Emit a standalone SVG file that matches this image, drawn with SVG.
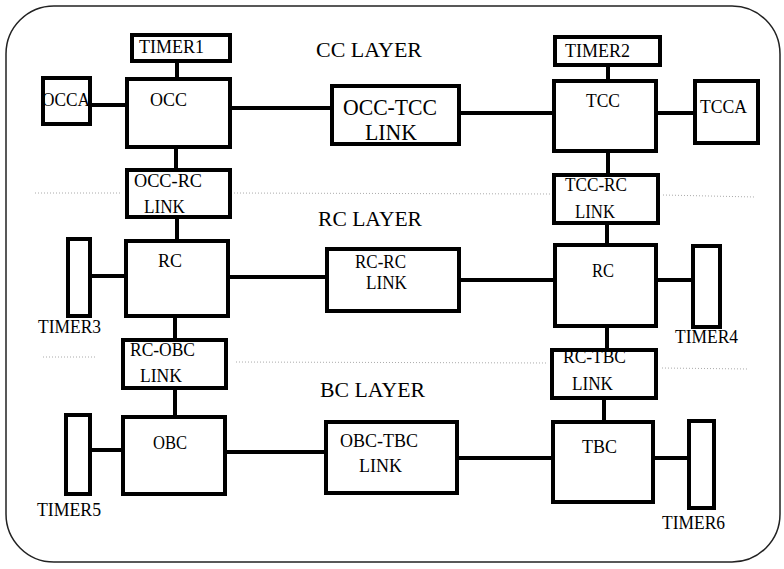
<svg xmlns="http://www.w3.org/2000/svg" width="784" height="569" viewBox="0 0 784 569">
<style>
.n{fill:#fff;stroke:#000;stroke-width:4}
.c{stroke:#000;stroke-width:4;fill:none}
.d{stroke:#aaa;stroke-width:1;stroke-dasharray:1 2;fill:none}
text{font-family:'Liberation Serif','DejaVu Serif',serif;font-size:19.5px;fill:#000}
.big{font-size:23px}
.lay{font-size:22px}
</style>
<rect x="6" y="6" width="774" height="556" rx="48" ry="48" fill="#fff" stroke="#222" stroke-width="1.5"/>
<g id="dotted">
<path class="d" d="M35 193H122M234 193L550 194M663 195L755 197"/>
<path class="d" d="M43 357H95M236 362L548 363M662 368L748 369"/>
</g>
<g id="connectors">
<path class="c" d="M177 63V79M92 105H127M232 108H332M459 113H554M608 67V81M656 113H695"/>
<path class="c" d="M176 149V170M608 151V175M177 219V241M607 223V245"/>
<path class="c" d="M92 276H126M228 277H327M459 280H555M656 280H693"/>
<path class="c" d="M175 318V340M607 326V350M175 390V417M604 400V422"/>
<path class="c" d="M90 450H123M225 452H326M457 458H553M653 458H689"/>
</g>
<g id="labels">
<text class="lay" x="316" y="57" textLength="106" lengthAdjust="spacingAndGlyphs">CC LAYER</text>
<text class="lay" x="318" y="226" textLength="104" lengthAdjust="spacingAndGlyphs">RC LAYER</text>
<text class="lay" x="320" y="397" textLength="105" lengthAdjust="spacingAndGlyphs">BC LAYER</text>
</g>
<g id="timer1"><rect class="n" x="132" y="35" width="98" height="26"/><text x="139" y="53" textLength="65" lengthAdjust="spacingAndGlyphs">TIMER1</text></g>
<g id="occ"><rect class="n" x="127" y="79" width="103" height="68"/><text x="150" y="106" textLength="37" lengthAdjust="spacingAndGlyphs">OCC</text></g>
<g id="occa"><rect class="n" x="43" y="78" width="47" height="46"/><text x="42" y="106" textLength="48" lengthAdjust="spacingAndGlyphs">OCCA</text></g>
<g id="occ-tcc-link"><rect class="n" x="332" y="86" width="127" height="58"/><text class="big" x="343" y="115" textLength="94" lengthAdjust="spacingAndGlyphs">OCC-TCC</text><text class="big" x="365" y="140" textLength="52" lengthAdjust="spacingAndGlyphs">LINK</text></g>
<g id="timer2"><rect class="n" x="555" y="37" width="105" height="28"/><text x="565" y="57" textLength="65" lengthAdjust="spacingAndGlyphs">TIMER2</text></g>
<g id="tcc"><rect class="n" x="554" y="81" width="102" height="70"/><text x="586" y="107" textLength="34" lengthAdjust="spacingAndGlyphs">TCC</text></g>
<g id="tcca"><rect class="n" x="695" y="81" width="63" height="62"/><text x="700" y="113" textLength="47" lengthAdjust="spacingAndGlyphs">TCCA</text></g>
<g id="occ-rc-link"><rect class="n" x="127" y="170" width="103" height="47"/><text x="134" y="187" textLength="68" lengthAdjust="spacingAndGlyphs">OCC-RC</text><text x="144" y="213" textLength="41" lengthAdjust="spacingAndGlyphs">LINK</text></g>
<g id="tcc-rc-link"><rect class="n" x="554" y="175" width="104" height="48"/><text x="565" y="191" textLength="62" lengthAdjust="spacingAndGlyphs">TCC-RC</text><text x="575" y="218" textLength="40" lengthAdjust="spacingAndGlyphs">LINK</text></g>
<g id="rc-left"><rect class="n" x="126" y="241" width="102" height="75"/><text x="158" y="267" textLength="24" lengthAdjust="spacingAndGlyphs">RC</text></g>
<g id="timer3"><rect class="n" x="68" y="239" width="22" height="77"/><text x="38" y="333" textLength="63" lengthAdjust="spacingAndGlyphs">TIMER3</text></g>
<g id="rc-rc-link"><rect class="n" x="327" y="249" width="132" height="62"/><text x="355" y="268" textLength="51" lengthAdjust="spacingAndGlyphs">RC-RC</text><text x="366" y="289" textLength="41" lengthAdjust="spacingAndGlyphs">LINK</text></g>
<g id="rc-right"><rect class="n" x="555" y="245" width="101" height="81"/><text x="592" y="277" textLength="22" lengthAdjust="spacingAndGlyphs">RC</text></g>
<g id="timer4"><rect class="n" x="693" y="246" width="27" height="81"/><text x="675" y="343" textLength="63" lengthAdjust="spacingAndGlyphs">TIMER4</text></g>
<g id="rc-obc-link"><rect class="n" x="123" y="340" width="103" height="48"/><text x="130" y="356" textLength="65" lengthAdjust="spacingAndGlyphs">RC-OBC</text><text x="140" y="382" textLength="42" lengthAdjust="spacingAndGlyphs">LINK</text></g>
<g id="rc-tbc-link"><rect class="n" x="552" y="350" width="104" height="48"/><text x="563" y="363" textLength="63" lengthAdjust="spacingAndGlyphs">RC-TBC</text><text x="572" y="390" textLength="41" lengthAdjust="spacingAndGlyphs">LINK</text></g>
<g id="obc"><rect class="n" x="123" y="417" width="102" height="77"/><text x="153" y="449" textLength="34" lengthAdjust="spacingAndGlyphs">OBC</text></g>
<g id="timer5"><rect class="n" x="66" y="415" width="24" height="79"/><text x="37" y="516" textLength="64" lengthAdjust="spacingAndGlyphs">TIMER5</text></g>
<g id="obc-tbc-link"><rect class="n" x="326" y="422" width="131" height="71"/><text x="340" y="447" textLength="78" lengthAdjust="spacingAndGlyphs">OBC-TBC</text><text x="359" y="472" textLength="43" lengthAdjust="spacingAndGlyphs">LINK</text></g>
<g id="tbc"><rect class="n" x="553" y="422" width="100" height="80"/><text x="582" y="453" textLength="35" lengthAdjust="spacingAndGlyphs">TBC</text></g>
<g id="timer6"><rect class="n" x="689" y="421" width="25" height="87"/><text x="662" y="529" textLength="63" lengthAdjust="spacingAndGlyphs">TIMER6</text></g>
</svg>
